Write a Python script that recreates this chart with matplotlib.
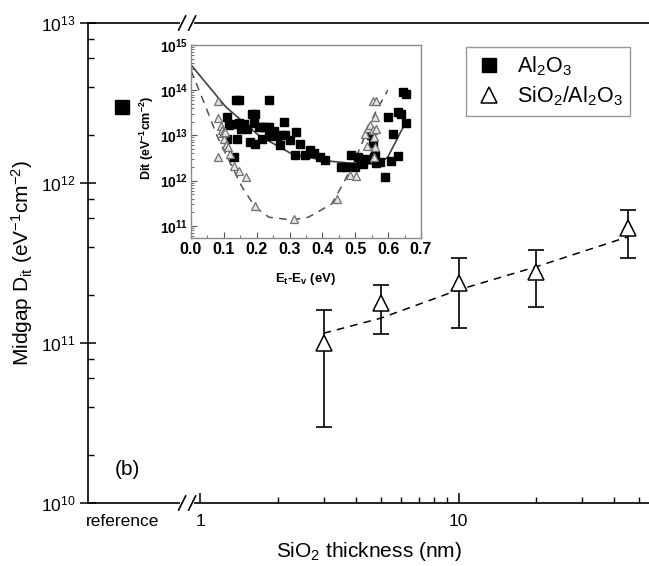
import numpy as np
import matplotlib
matplotlib.use('Agg')
import matplotlib.pyplot as plt
from matplotlib.ticker import FixedLocator, NullFormatter, LogLocator, MultipleLocator
from matplotlib.lines import Line2D
from matplotlib.transforms import IdentityTransform

plt.rcParams['font.family'] = ['Liberation Sans', 'DejaVu Sans']
plt.rcParams['mathtext.fontset'] = 'custom'
plt.rcParams['mathtext.rm'] = 'Liberation Sans'
plt.rcParams['mathtext.it'] = 'Liberation Sans:italic'
plt.rcParams['mathtext.bf'] = 'Liberation Sans:bold'
plt.rcParams['mathtext.default'] = 'regular'

# main panel: midgap Dit vs SiO2 thickness
ref_x = 0.5            # position used for the "reference" (no SiO2) sample
ref_dit = 3.0e12
thick = [3, 5, 10, 20, 45]
dit = [1.0e11, 1.78e11, 2.37e11, 2.78e11, 5.2e11]
dit_hi = [1.6e11, 2.3e11, 3.4e11, 3.8e11, 6.8e11]
dit_lo = [3.0e10, 1.14e11, 1.24e11, 1.68e11, 3.4e11]
fit_x = [3, 5, 10, 20, 45]
fit_y = [1.15e11, 1.43e11, 2.15e11, 3.0e11, 4.6e11]

# inset: Dit spectra vs Et-Ev
al_e = [0.111, 0.138, 0.146, 0.116, 0.131, 0.146, 0.161, 0.151, 0.171, 0.141,
        0.111, 0.131, 0.186, 0.196, 0.191, 0.206, 0.216, 0.226, 0.236, 0.181,
        0.196, 0.216, 0.238, 0.252, 0.236, 0.262, 0.272, 0.277, 0.287, 0.282,
        0.302, 0.319, 0.317, 0.332, 0.347, 0.362, 0.375, 0.392, 0.409, 0.456,
        0.473, 0.486, 0.498, 0.508, 0.513, 0.523, 0.533, 0.548, 0.553, 0.556,
        0.563, 0.560, 0.574, 0.589, 0.601, 0.609, 0.614, 0.631, 0.631, 0.639,
        0.644, 0.654, 0.654]
al_log = [13.41, 13.78, 13.78, 13.22, 13.26, 13.27, 13.26, 13.15, 13.15, 12.93,
          12.93, 12.53, 13.47, 13.47, 13.27, 13.19, 13.19, 13.19, 13.19, 12.85,
          12.80, 12.93, 13.78, 13.10, 12.98, 12.98, 12.78, 13.00, 13.00, 13.30,
          12.90, 13.07, 12.57, 12.81, 12.56, 12.67, 12.61, 12.52, 12.46, 12.31,
          12.31, 12.56, 12.31, 12.52, 12.44, 12.36, 12.48, 13.00, 12.83, 12.52,
          12.39, 12.56, 12.41, 12.07, 13.41, 12.44, 13.04, 12.54, 13.52, 13.48,
          13.96, 13.91, 13.27]
si_e = [0.083, 0.083, 0.083, 0.091, 0.094, 0.098, 0.101, 0.104, 0.108, 0.113,
        0.118, 0.131, 0.146, 0.168, 0.196, 0.315, 0.443, 0.483, 0.503, 0.530,
        0.536, 0.540, 0.546, 0.553, 0.563, 0.560, 0.558, 0.560, 0.558, 0.553,
        0.563]
si_log = [13.76, 13.39, 12.52, 13.20, 13.13, 13.05, 12.93, 13.07, 12.78, 12.74,
          12.58, 12.33, 12.22, 12.09, 11.44, 11.16, 11.59, 12.13, 12.10, 13.04,
          12.76, 13.17, 13.22, 13.76, 13.76, 13.41, 12.96, 12.74, 12.52, 13.11,
          13.15]
fit_al_e = [0.0, 0.106, 0.206, 0.307, 0.408, 0.508, 0.569, 0.599, 0.630, 0.654]
fit_al_log = [14.56, 13.63, 13.0, 12.59, 12.44, 12.37, 12.37, 12.52, 12.96, 13.30]
fit_si_e = [0.0, 0.045, 0.081, 0.116, 0.156, 0.196, 0.237, 0.307, 0.357, 0.428,
            0.463, 0.498, 0.528, 0.559, 0.599]
fit_si_log = [14.44, 13.63, 12.96, 12.44, 11.85, 11.41, 11.19, 11.13, 11.19, 11.48,
              11.93, 12.44, 12.96, 13.48, 14.0]

fig = plt.figure(figsize=(6.49, 5.66), dpi=100)
ax = fig.add_axes([88 / 649, 1 - 503 / 566, 561 / 649, 480 / 566])
ax.set_xscale('log')
ax.set_yscale('log')
ax.set_xlim(0.368, 54.5)
ax.set_ylim(1e10, 1e13)

ax.plot(fit_x, fit_y, color='black', lw=1.1, ls=(0, (5, 4)), zorder=2)
ax.errorbar(thick, dit, yerr=[np.array(dit) - np.array(dit_lo), np.array(dit_hi) - np.array(dit)],
            fmt='none', ecolor='black', elinewidth=1.2, capsize=6, capthick=1.2, zorder=3)
ax.plot(thick, dit, ls='none', marker='^', ms=12, mfc='white', mec='black', mew=1.1, zorder=4)
ax.plot([ref_x], [ref_dit], ls='none', marker='s', ms=10.5, color='black', zorder=4)

ax.spines['right'].set_visible(False)
for s in ['left', 'top', 'bottom']:
    ax.spines[s].set_linewidth(1.2)
ax.set_xticks([ref_x, 1, 10], ['reference', '1', '10'])
ax.xaxis.set_minor_locator(FixedLocator([2, 3, 4, 5, 6, 7, 8, 9, 20, 30, 40, 50]))
ax.xaxis.set_minor_formatter(NullFormatter())
ax.xaxis.get_major_ticks()[0].tick1line.set_visible(False)
ax.yaxis.set_minor_locator(LogLocator(base=10, subs=(2, 4, 6, 8)))
ax.yaxis.set_minor_formatter(NullFormatter())
ax.tick_params(axis='x', which='major', direction='in', length=7, width=1.1, labelsize=12.5, pad=8)
ax.tick_params(axis='y', which='major', direction='inout', length=12, width=1.1, labelsize=12.5, pad=3)
ax.tick_params(which='minor', direction='in', length=4, width=1.0)
ax.tick_params(top=False, right=False)

ax.set_xlabel('SiO$_2$ thickness (nm)', fontsize=15)
ax.set_ylabel('Midgap D$_{it}$ (eV$^{-1}$cm$^{-2}$)', fontsize=15)
ax.xaxis.set_label_coords(0.5, -0.077)
ax.yaxis.set_label_coords(-0.094, 0.5)
ax.text(0.048, 0.058, '(b)', transform=ax.transAxes, fontsize=15)

leg_handles = [Line2D([], [], ls='none', marker='s', ms=10, color='black'),
               Line2D([], [], ls='none', marker='^', ms=12, mfc='white', mec='black', mew=1.1)]
ax.legend(leg_handles, ['Al$_2$O$_3$', 'SiO$_2$/Al$_2$O$_3$'], loc='upper right',
          bbox_to_anchor=(0.966, 0.95), borderaxespad=0, fontsize=15.5, fancybox=False,
          framealpha=1, edgecolor='#999999', borderpad=0.35, handletextpad=0.6,
          labelspacing=0.3, handlelength=1.4)

# axis-break marks
fig.canvas.draw()
bx = ax.transData.transform((0.89, 1e10))[0]
for yv in (1e10, 1e13):
    by = ax.transData.transform((1, yv))[1]
    fig.add_artist(Line2D([bx - 5, bx + 5], [by, by], color='white', lw=3,
                          transform=IdentityTransform(), zorder=10))
    for dx in (-5, 5):
        fig.add_artist(Line2D([bx + dx - 3.5, bx + dx + 3.5], [by - 7, by + 7], color='black',
                              lw=1.2, transform=IdentityTransform(), zorder=11))

# inset
ins = fig.add_axes([191 / 649, 1 - 238 / 566, 230 / 649, 193 / 566])
ins.set_yscale('log')
ins.set_xlim(0, 0.7)
ins.set_ylim(10 ** 10.73, 1e15)
ins.plot(fit_al_e, 10.0 ** np.array(fit_al_log), color='#404040', lw=1.2, zorder=2)
ins.plot(fit_si_e, 10.0 ** np.array(fit_si_log), color='#505050', lw=1.1, ls=(0, (5, 4)), zorder=2)
ins.plot(al_e, 10.0 ** np.array(al_log), ls='none', marker='s', ms=5.5, color='black', zorder=3)
ins.plot(si_e, 10.0 ** np.array(si_log), ls='none', marker='^', ms=6, mfc='#e4e4e4', mec='#707070',
         mew=0.9, zorder=4)
for s in ins.spines.values():
    s.set_color('#8a8a8a')
    s.set_linewidth(1.0)
ins.set_xticks(np.arange(0, 0.71, 0.1))
ins.set_xticklabels(['%.1f' % v for v in np.arange(0, 0.71, 0.1)], fontweight='bold')
ins.xaxis.set_minor_locator(MultipleLocator(0.05))
ins.set_yticks([1e11, 1e12, 1e13, 1e14, 1e15])
ins.set_yticklabels([r'$\mathbf{10^{%d}}$' % k for k in range(11, 16)])
ins.yaxis.set_minor_locator(LogLocator(base=10, subs=np.arange(2, 10)))
ins.yaxis.set_minor_formatter(NullFormatter())
ins.tick_params(which='major', direction='in', length=4, width=0.8, color='#555555', labelsize=11.5, pad=3)
ins.tick_params(axis='y', which='major', labelsize=10, pad=2)
ins.tick_params(which='minor', direction='in', length=2, width=0.6, color='#555555')
ins.set_xlabel(r'$\mathbf{E_t}$-$\mathbf{E_v}$ (eV)', fontsize=9.5, fontweight='bold')
ins.set_ylabel(r'$\mathbf{Dit\ (eV^{-1}cm^{-2})}$', fontsize=9)
ins.xaxis.set_label_coords(0.5, -0.17)
ins.yaxis.set_label_coords(-0.15, 0.52)

fig.savefig('out.png', dpi=100)
